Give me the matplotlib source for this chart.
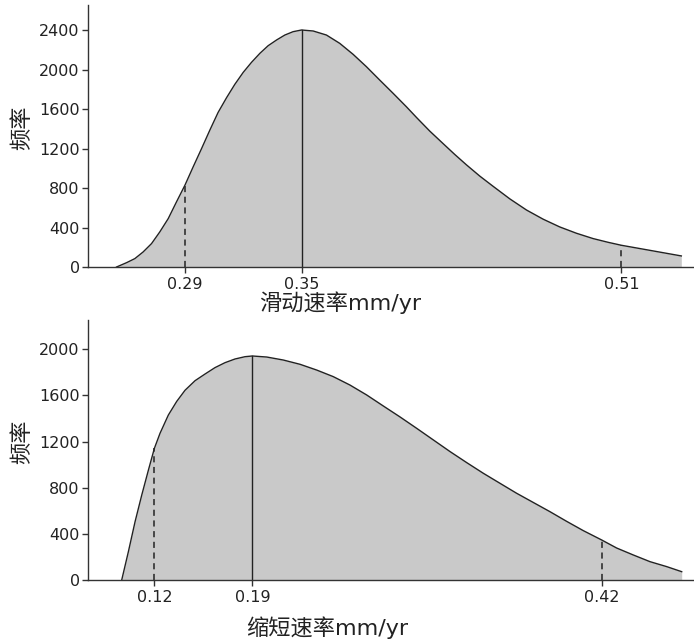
import numpy as np
import matplotlib.pyplot as plt

plt.rcParams['font.family'] = ['DejaVu Sans', 'Noto Sans CJK SC']

# slip rate distribution (top panel)
slip_rate = [0.2580, 0.2630, 0.2671, 0.2712, 0.2754, 0.2795, 0.2837, 0.2878,
             0.2920, 0.2961, 0.3003, 0.3044, 0.3085, 0.3127, 0.3168, 0.3210,
             0.3251, 0.3293, 0.3334, 0.3376, 0.3417, 0.3458, 0.3500, 0.3558,
             0.3624, 0.3690, 0.3757, 0.3823, 0.3889, 0.3956, 0.4022, 0.4072,
             0.4138, 0.4204, 0.4262, 0.4320, 0.4387, 0.4453, 0.4536, 0.4619,
             0.4702, 0.4784, 0.4867, 0.4950, 0.5025, 0.5091, 0.5232, 0.5389]
slip_freq = [0, 44, 85, 152, 237, 355, 490, 659,
             828, 1014, 1200, 1386, 1565, 1714, 1849, 1971,
             2072, 2164, 2241, 2299, 2349, 2383, 2400, 2390,
             2349, 2265, 2153, 2028, 1893, 1758, 1622, 1514,
             1376, 1250, 1140, 1035, 920, 817, 690, 577,
             484, 406, 342, 288, 250, 220, 169, 112]
slip_marks = [0.2920, 0.35, 0.5091]
slip_labels = ['0.29', '0.35', '0.51']

# shortening rate distribution (bottom panel)
short_rate = [0.1040, 0.1084, 0.1128, 0.1172, 0.1216, 0.1255, 0.1292, 0.1347,
              0.1402, 0.1457, 0.1523, 0.1589, 0.1654, 0.1720, 0.1786, 0.1852,
              0.1900, 0.1995, 0.2104, 0.2214, 0.2324, 0.2433, 0.2543, 0.2653,
              0.2763, 0.2872, 0.2982, 0.3092, 0.3202, 0.3311, 0.3421, 0.3531,
              0.3640, 0.3750, 0.3860, 0.3970, 0.4079, 0.4200, 0.4299, 0.4408,
              0.4518, 0.4628, 0.4727]
short_freq = [0, 246, 506, 737, 954, 1141, 1271, 1430,
              1548, 1645, 1728, 1786, 1841, 1884, 1916, 1936,
              1942, 1933, 1907, 1870, 1820, 1763, 1690, 1604,
              1508, 1414, 1315, 1214, 1113, 1018, 925, 838,
              752, 672, 592, 508, 428, 347, 277, 217,
              159, 116, 72]
short_marks = [0.1255, 0.19, 0.42]
short_labels = ['0.12', '0.19', '0.42']


def draw_panel(ax, x, y, marks, labels, xlim, ylim, yticks, xlabel, lab_x, lab_y):
    ax.fill_between(x, y, 0, color='#c9c9c9', lw=0)
    ax.plot(x, y, color='#222222', lw=1, solid_joinstyle='round')
    for i, m in enumerate(marks):
        h = np.interp(m, x, y)
        if i == 1:
            ax.plot([m, m], [0, h], color='#222222', lw=1)
        else:
            ax.plot([m, m], [0, h], color='#222222', lw=1.1, ls=(0, (4, 3)))
    ax.set_xlim(xlim)
    ax.set_ylim(ylim)
    ax.set_xticks(marks)
    ax.set_xticklabels(labels)
    ax.set_yticks(yticks)
    for s in ['top', 'right']:
        ax.spines[s].set_visible(False)
    for s in ['left', 'bottom']:
        ax.spines[s].set_color('#333333')
        ax.spines[s].set_linewidth(1)
    ax.tick_params(axis='both', labelsize=11.5, length=4.5, width=1,
                   color='#333333', labelcolor='#222222')
    ax.tick_params(axis='y', pad=1.5)
    ax.tick_params(axis='x', pad=3)
    ax.text(lab_x, lab_y, xlabel, transform=ax.transAxes, ha='center',
            va='center', fontsize=16, color='#222222')
    ax.text(-0.109, 0.53, '频率', transform=ax.transAxes, ha='center',
            va='center', rotation=90, fontsize=16, color='#222222')


fig = plt.figure(figsize=(6.94, 6.44), dpi=100)
ax1 = fig.add_axes([0.1268, 0.5854, 0.8732, 0.4068])
ax2 = fig.add_axes([0.1268, 0.0994, 0.8732, 0.4037])

draw_panel(ax1, slip_rate, slip_freq, slip_marks, slip_labels,
           (0.2438, 0.5452), (0, 2653), range(0, 2401, 400),
           '滑动速率mm/yr', 0.416, -0.137)
draw_panel(ax2, short_rate, short_freq, short_marks, short_labels,
           (0.0818, 0.4808), (0, 2254), range(0, 2001, 400),
           '缩短速率mm/yr', 0.394, -0.185)

fig.savefig('out.png', dpi=100)
